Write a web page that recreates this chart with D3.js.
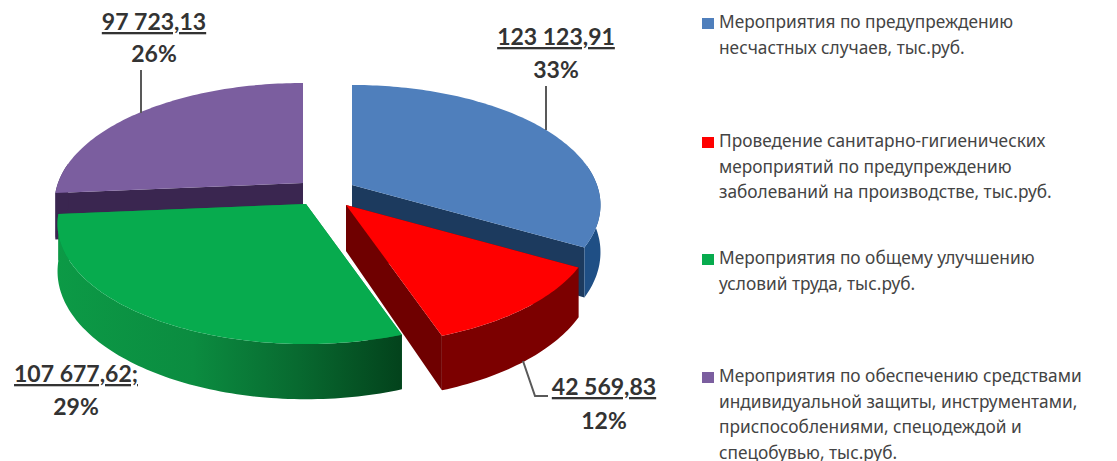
<!DOCTYPE html>
<html>
<head>
<meta charset="utf-8">
<script src="https://cdn.jsdelivr.net/npm/d3@7"></script>
<style>
html, body { margin: 0; padding: 0; background: #fff; }
svg { display: block; }
</style>
</head>
<body>
<svg width="1117" height="461"></svg>
<script>
// data
var categories = ["blue", "red", "green", "purple"];
var values = [123123.91, 42569.83, 107677.62, 97723.13];
var valueLabels = ["123 123,91", "42 569,83", "107 677,62;", "97 723,13"];
var percentLabels = ["33%", "12%", "29%", "26%"];
var legendLines = [
    ["Мероприятия по предупреждению", "несчастных случаев, тыс.руб."],
    ["Проведение санитарно-гигиенических", "мероприятий по предупреждению", "заболеваний на производстве, тыс.руб."],
    ["Мероприятия по общему улучшению", "условий труда, тыс.руб."],
    ["Мероприятия по обеспечению средствами", "индивидуальной защиты, инструментами,", "приспособлениями, спецодеждой и", "спецобувью, тыс.руб."]
];

// layout
var sliceCenters = {blue: [352, 185], red: [346, 205], green: [306, 204], purple: [303, 183]};
var topColors = {blue: "#4f7fbc", red: "#ff0000", green: "#07ab4e", purple: "#7b5e9f"};
var wallColors = {blue: "#1c3a5e", red: "#6f0000", green: "#0a8a40", purple: "#3a2650"};
var outerColors = {blue: "#1f4f85", red: "#7c0000", green: "url(#greenWall)", purple: "#3a2650"};
var legendTop = [28, 147, 264, 382];
var labelPos = [[556, 45, 78], [604, 395, 429], [76, 382, 415], [154, 30, 62]];
var leaders = [
    [[546, 86], [546, 130]],
    [[523, 361], [535, 396], [548, 396]],
    [],
    [[141, 70], [141, 113]]
];

var R = 245, K = 116.7, P = 1 / 6, DEPTH = 46;

var svg = d3.select("svg");

var defs = svg.append("defs");
var grad = defs.append("linearGradient").attr("id", "greenWall")
    .attr("gradientUnits", "userSpaceOnUse")
    .attr("x1", 55).attr("x2", 400).attr("y1", 0).attr("y2", 0);
grad.append("stop").attr("offset", "0").attr("stop-color", "#0c9a46");
grad.append("stop").attr("offset", "0.4").attr("stop-color", "#0b8c40");
grad.append("stop").attr("offset", "0.7").attr("stop-color", "#086a30");
grad.append("stop").attr("offset", "1").attr("stop-color", "#03431c");

// perspective of a point on the disc, angle clockwise from 12 o'clock
function project(c, a, r, drop) {
    var front = -Math.cos(a) * r;
    var s = 1 / (1 - P * front);
    return [c[0] + R * Math.sin(a) * r * s, c[1] + K * front * s + drop * s];
}

function arcPoints(c, a0, a1, drop) {
    var n = Math.max(2, Math.ceil((a1 - a0) / 0.02));
    return d3.range(n + 1).map(function (i) {
        return project(c, a0 + (a1 - a0) * i / n, 1, drop);
    });
}

var line = d3.line();
var pie = d3.pie().sort(null)(values);

// back slices first, front ones over them
var drawOrder = [3, 0, 1, 2];
drawOrder.forEach(function (i) {
    var arc = pie[i];
    var name = categories[i];
    var c = sliceCenters[name];
    var g = svg.append("g").attr("class", "slice " + name);

    // radial walls
    [arc.startAngle, arc.endAngle].forEach(function (a) {
        g.append("path")
            .attr("d", line([project(c, a, 0, 0), project(c, a, 1, 0), project(c, a, 1, DEPTH), project(c, a, 0, DEPTH)]) + "Z")
            .attr("fill", wallColors[name]);
    });

    // outer wall, only the part that faces us
    var a0 = Math.max(arc.startAngle, Math.PI / 2 - 0.17);
    var a1 = Math.min(arc.endAngle, 3 * Math.PI / 2 + 0.17);
    if (a1 > a0) {
        var upper = arcPoints(c, a0, a1, 0);
        var lower = arcPoints(c, a0, a1, DEPTH).reverse();
        g.append("path").attr("d", line(upper.concat(lower)) + "Z").attr("fill", outerColors[name]);
    }

    // top face
    var topFace = [project(c, 0, 0, 0)].concat(arcPoints(c, arc.startAngle, arc.endAngle, 0));
    g.append("path").attr("d", line(topFace) + "Z").attr("fill", topColors[name]);
});

// leader lines
svg.selectAll("path.leader").data(leaders.filter(function (d) { return d.length; }))
    .enter().append("path").attr("class", "leader")
    .attr("d", function (d) { return line(d); })
    .attr("fill", "none").attr("stroke", "#595959").attr("stroke-width", 2);

// value labels
var labels = svg.selectAll("g.label").data(valueLabels).enter().append("g").attr("class", "label")
    .attr("font-family", "Lato, 'Open Sans', sans-serif").attr("font-weight", 700)
    .attr("font-size", 23).attr("fill", "#333").attr("text-anchor", "middle");
labels.append("text")
    .attr("x", function (d, i) { return labelPos[i][0]; })
    .attr("y", function (d, i) { return labelPos[i][1]; })
    .style("text-decoration", "underline")
    .text(function (d) { return d; });
labels.append("text")
    .attr("x", function (d, i) { return labelPos[i][0]; })
    .attr("y", function (d, i) { return labelPos[i][2]; })
    .text(function (d, i) { return percentLabels[i]; });

// legend
var legend = svg.selectAll("g.legend").data(legendLines).enter().append("g").attr("class", "legend");
legend.append("rect")
    .attr("x", 702).attr("width", 12).attr("height", 11)
    .attr("y", function (d, i) { return legendTop[i] - 10; })
    .attr("fill", function (d, i) { return topColors[categories[i]]; });
legend.each(function (d, i) {
    d3.select(this).selectAll("text").data(d).enter().append("text")
        .attr("x", 719)
        .attr("y", function (t, j) { return legendTop[i] + j * 25.7; })
        .attr("font-family", "'Noto Sans', sans-serif").attr("font-size", 17.3).attr("fill", "#444")
        .text(function (t) { return t; });
});
</script>
</body>
</html>
